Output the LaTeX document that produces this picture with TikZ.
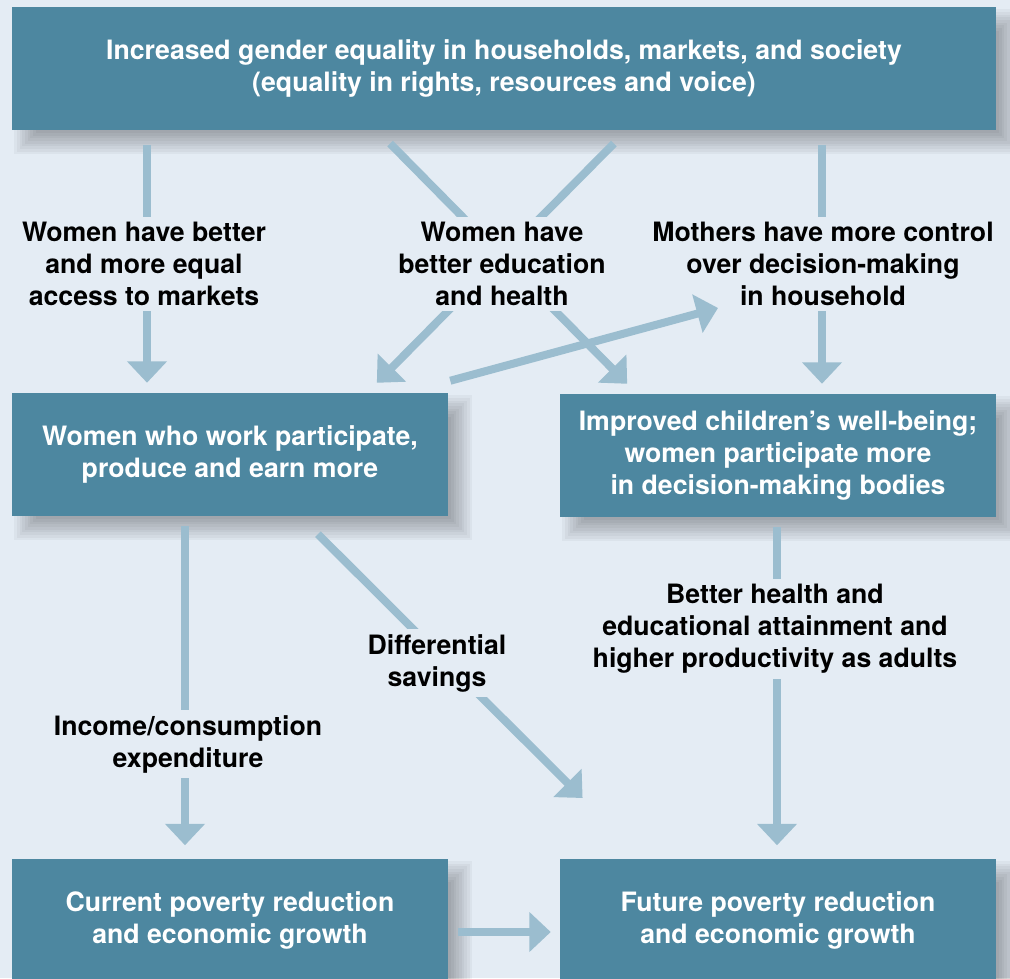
\documentclass[tikz,border=0pt]{standalone}
\usepackage{fontspec}
\setmainfont{TeX Gyre Heros}
\usetikzlibrary{arrows.meta}

\definecolor{bgblue}{HTML}{E4ECF4}
\definecolor{boxblue}{HTML}{4D87A0}
\definecolor{arrowblue}{HTML}{9BBDCF}

\pgfdeclarelayer{back}
\pgfsetlayers{back,main}

\tikzset{
  box/.style={fill=boxblue, text=white, align=center,
    font=\bfseries\fontsize{20}{24}\selectfont,
    minimum width=327pt, minimum height=92.25pt, inner sep=0pt},
  lbl/.style={fill=bgblue, align=center,
    font=\bfseries\fontsize{20}{24}\selectfont, inner sep=4pt},
  link/.style={draw=arrowblue, line width=6pt,
    -{Triangle[width=29pt,length=16pt]}},
}

\begin{document}
\begin{tikzpicture}[x=0.75pt, y=-0.75pt]

      \useasboundingbox (0,0) rectangle (1010,978);

      % boxes
      \node[box, minimum width=738pt] (top) at (504,68.5)
        {Increased gender equality in households, markets, and society\\
         (equality in rights, resources and voice)};
      \node[box] (work) at (230,454.5)
        {Women who work participate,\\produce and earn more};
      \node[box] (kids) at (778,455.5)
        {Improved children’s well-being;\\women participate more\\in decision-making bodies};
      \node[box] (now) at (230,920)
        {Current poverty reduction\\and economic growth};
      \node[box] (fut) at (778,920)
        {Future poverty reduction\\and economic growth};

      % background and soft shadows
      \begin{pgfonlayer}{back}
        \fill[bgblue] (0,0) rectangle (1010,978);
        \foreach \b in {top,work,kids,now,fut}
          \foreach \g in {-8,-6,...,8}
            \fill[black, opacity=0.035]
              ([xshift=10pt-\g*1pt, yshift=-10pt-\g*1pt]\b.south west) rectangle
              ([xshift=10pt+\g*1pt, yshift=-10pt+\g*1pt]\b.north east);
      \end{pgfonlayer}

      % arrows
      \draw[link, shorten <=11pt, shorten >=7.5pt] (top.south -| 147,0) -- (work.north -| 147,0);
      \draw[link, shorten <=11pt, shorten >=7.5pt] (top.south -| 822,0) -- (kids.north -| 822,0);
      \draw[link, shorten <=14pt, shorten >=10.5pt] (top.south -| 377,0) -- (kids.north -| 637,0);
      \draw[link, shorten <=14pt, shorten >=10.5pt] (top.south -| 627,0) -- (work.north -| 367,0);
      \draw[link, shorten <=7.5pt, shorten >=9.75pt] (work.south -| 185,0) -- (now.north -| 185,0);
      \draw[link, shorten <=19pt, shorten >=64pt] (work.south -| 300,0) -- (fut.north -| 643,0);
      \draw[link, shorten <=7.5pt, shorten >=9.75pt] (kids.south -| 777,0) -- (fut.north -| 777,0);
      \draw[link, shorten <=7.5pt, shorten >=6.75pt] (now.east |- 0,932) -- (fut.west |- 0,932);

      % labels
      \node[lbl] (mkt) at (144,264) {Women have better\\and more equal\\access to markets};
      \node[lbl] (edu) at (502,264) {Women have\\better education\\and health};
      \node[lbl] (moth) at (823,264) {Mothers have more control\\over decision-making\\in household};
      \node[lbl] (inc) at (188,744) {Income/consumption\\expenditure};
      \node[lbl] (sav) at (437,663) {Differential\\savings};
      \node[lbl] (hlth) at (775,629) {Better health and\\educational attainment and\\higher productivity as adults};

      \draw[link] ([shift={(2,-12)}]work.north east) -- (718,308);

    \end{tikzpicture}
\end{document}
